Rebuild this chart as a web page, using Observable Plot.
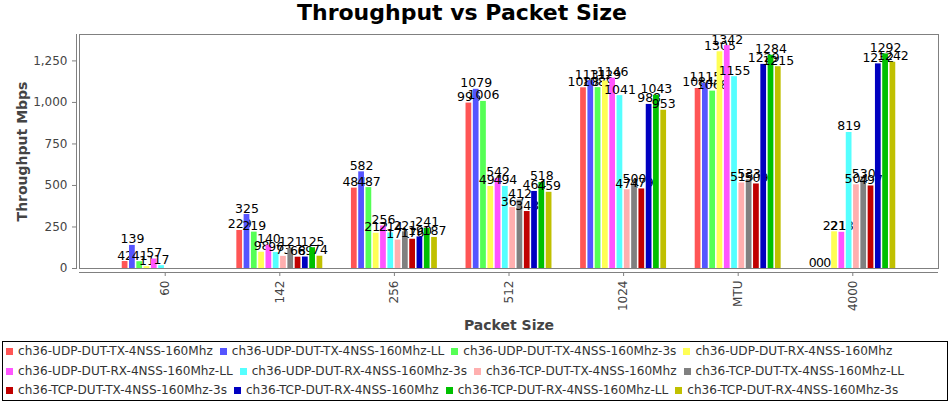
<!DOCTYPE html>
<html>
<head>
<meta charset="utf-8">
<script src="https://cdn.jsdelivr.net/npm/d3@7"></script>
<script src="https://cdn.jsdelivr.net/npm/@observablehq/plot@0.6"></script>
<style>
  html, body { margin: 0; padding: 0; background: #fff; }
  body { font-family: "DejaVu Sans", sans-serif; }
  #wrap { position: relative; width: 950px; height: 403px; overflow: hidden; background: #fff; }
  #title { position: absolute; left: -13px; top: 0; width: 950px; height: 26px; line-height: 26px; text-align: center; font-weight: bold; font-size: 22px; color: #000; }
  .layer { position: absolute; left: 0; top: 0; }
  #legend { position: absolute; left: 2px; top: 341px; width: 944px; height: 58px; border: 1px solid #000; box-sizing: content-box; }
  .row { display: flex; height: 19.5px; line-height: 19.5px; padding-left: 3px; white-space: nowrap; font-size: 12.1px; color: #333; }
  .item { display: flex; align-items: center; margin-right: 7px; }
  .sw { width: 7px; height: 7px; margin-right: 5px; }
</style>
</head>
<body>
<div id="wrap">
  <div id="title">Throughput vs Packet Size</div>
  <div id="bg" class="layer"></div>
  <div id="fg" class="layer"></div>
  <div id="legend"></div>
</div>
<script>
// ---- data ----
const categories = ["60", "142", "256", "512", "1024", "MTU", "4000"];
const seriesNames = [
  "ch36-UDP-DUT-TX-4NSS-160Mhz",
  "ch36-UDP-DUT-TX-4NSS-160Mhz-LL",
  "ch36-UDP-DUT-TX-4NSS-160Mhz-3s",
  "ch36-UDP-DUT-RX-4NSS-160Mhz",
  "ch36-UDP-DUT-RX-4NSS-160Mhz-LL",
  "ch36-UDP-DUT-RX-4NSS-160Mhz-3s",
  "ch36-TCP-DUT-TX-4NSS-160Mhz",
  "ch36-TCP-DUT-TX-4NSS-160Mhz-LL",
  "ch36-TCP-DUT-TX-4NSS-160Mhz-3s",
  "ch36-TCP-DUT-RX-4NSS-160Mhz",
  "ch36-TCP-DUT-RX-4NSS-160Mhz-LL",
  "ch36-TCP-DUT-RX-4NSS-160Mhz-3s"
];
const seriesColors = ["#ff5555", "#5555ff", "#55ff55", "#ffff55", "#ff55ff", "#55ffff",
                      "#ffafaf", "#808080", "#c00000", "#0000c0", "#00c000", "#c0c000"];
const udpTx     = [42, 229, 484, 996, 1088, 1084, 0];
const udpTxLL   = [139, 325, 582, 1079, 1131, 1115, 0];
const udpTx3s   = [41, 219, 487, 1006, 1089, 1068, 0];
const udpRx     = [11, 98, 212, 494, 1129, 1305, 221];
const udpRxLL   = [57, 140, 256, 542, 1146, 1342, 218];
const udpRx3s   = [17, 96, 214, 494, 1041, 1155, 819];
const tcpTx     = [null, 73, 171, 367, 474, 515, 504];
const tcpTxLL   = [null, 121, 221, 412, 500, 533, 530];
const tcpTx3s   = [null, 68, 176, 343, 479, 509, 497];
const tcpRx     = [null, 69, 190, 464, 988, 1229, 1232];
const tcpRxLL   = [null, 125, 241, 518, 1043, 1284, 1292];
const tcpRx3s   = [null, 74, 187, 459, 953, 1215, 1242];
const seriesValues = [udpTx, udpTxLL, udpTx3s, udpRx, udpRxLL, udpRx3s,
                      tcpTx, tcpTxLL, tcpTx3s, tcpRx, tcpRxLL, tcpRx3s];
const yTicks = [0, 250, 500, 750, 1000, 1250];
const yLabel = "Throughput Mbps";
const xLabel = "Packet Size";

// ---- layout ----
const W = 950, H = 335;
const M = {top: 34, bottom: 67, left: 79, right: 12};
const yMax = 1409;
const font = {fontFamily: "DejaVu Sans, sans-serif", fontSize: "12px", background: "transparent", overflow: "visible"};

const perSeries = seriesValues.map((vals, i) =>
  categories.map((c, j) => ({cat: c, series: seriesNames[i], value: vals[j]}))
            .filter(d => d.value !== null));

// background: frame, axes
const bg = Plot.plot({
  width: W, height: H,
  marginTop: M.top, marginBottom: M.bottom, marginLeft: M.left, marginRight: M.right,
  style: font,
  x: {type: "band", domain: categories, paddingInner: 0.25, paddingOuter: 0.373, round: false, axis: null},
  y: {domain: [0, yMax], axis: null},
  marks: [
    Plot.frame({stroke: "#808080"}),
    Plot.frame({anchor: "left", stroke: "#808080", dx: -3}),
    Plot.ruleY([0], {stroke: "#808080", dy: 4}),
    Plot.axisY(yTicks, {tickFormat: d3.format(","), tickSize: 4, dx: -3, tickPadding: 5, stroke: "#808080", fill: "#444", fontSize: 12}),
    Plot.axisX(categories, {tickSize: 4, dy: 4, tickRotate: -90, tickPadding: 4, stroke: "#808080", fill: "#444", fontSize: 12}),
    Plot.text([yLabel], {text: d => d, frameAnchor: "left", textAnchor: "middle", dx: -57, rotate: -90, fontWeight: "bold", fontSize: 14, fill: "#444"}),
    Plot.text([xLabel], {text: d => d, frameAnchor: "bottom", textAnchor: "middle", dy: 57, lineAnchor: "middle", fontWeight: "bold", fontSize: 14, fill: "#444"})
  ]
});
document.getElementById("bg").appendChild(bg);

// foreground: grouped bars with value labels (series drawn one after another)
const fgMarks = [];
perSeries.forEach((rows) => {
  fgMarks.push(Plot.barY(rows, {fx: "cat", x: "series", y: "value", fill: "series"}));
  fgMarks.push(Plot.text(rows, {fx: "cat", x: "series", y: "value", text: d => String(d.value),
    dy: -2, lineAnchor: "bottom", fill: "#000", fontSize: 12.5}));
});
const fg = Plot.plot({
  width: W, height: H,
  marginTop: M.top, marginBottom: M.bottom, marginLeft: M.left, marginRight: M.right,
  style: font,
  fx: {domain: categories, paddingInner: 0.25, paddingOuter: 0.373, round: false, axis: null},
  x: {domain: seriesNames, paddingInner: 0.214, paddingOuter: 0, round: false, axis: null},
  y: {domain: [0, yMax], axis: null},
  color: {domain: seriesNames, range: seriesColors},
  marks: fgMarks
});
document.getElementById("fg").appendChild(fg);

// legend
const legend = document.getElementById("legend");
for (let r = 0; r < 3; r++) {
  const row = document.createElement("div");
  row.className = "row";
  for (let k = 0; k < 4; k++) {
    const i = r * 4 + k;
    const item = document.createElement("div");
    item.className = "item";
    const sw = document.createElement("span");
    sw.className = "sw";
    sw.style.background = seriesColors[i];
    const t = document.createElement("span");
    t.textContent = seriesNames[i];
    item.appendChild(sw); item.appendChild(t);
    row.appendChild(item);
  }
  legend.appendChild(row);
}
</script>
</body>
</html>
